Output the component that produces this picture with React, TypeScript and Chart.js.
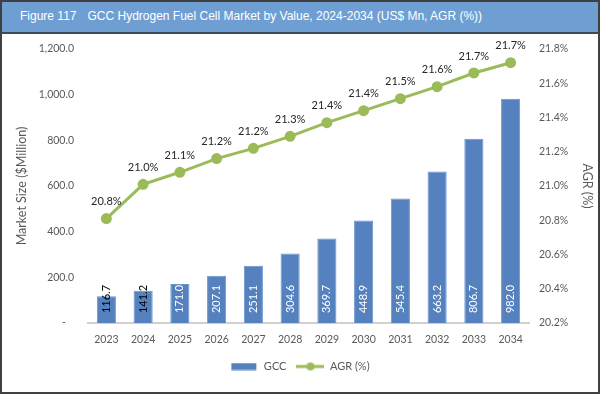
import React, { useEffect, useRef } from "react";
import { Chart, registerables } from "chart.js";

Chart.register(...registerables);

const years = ["2023", "2024", "2025", "2026", "2027", "2028", "2029", "2030", "2031", "2032", "2033", "2034"];
const gccValues = [116.7, 141.2, 171.0, 207.1, 251.1, 304.6, 369.7, 448.9, 545.4, 663.2, 806.7, 982.0];
const agrValues = [20.81, 21.01, 21.08, 21.16, 21.22, 21.29, 21.37, 21.44, 21.51, 21.58, 21.66, 21.72];
const titleText = "GCC Hydrogen Fuel Cell Market by Value, 2024-2034 (US$ Mn, AGR (%))";
const figureLabel = "Figure 117";

const BAR_COLOR = "#5581be";
const LINE_COLOR = "#9bbb59";
const TEXT_COLOR = "#595959";
const FONT = "Lato";

function makeBarIcon() {
  const c = document.createElement("canvas");
  c.width = 28;
  c.height = 8;
  const g = c.getContext("2d")!;
  g.fillStyle = BAR_COLOR;
  g.fillRect(1, 0.5, 25, 7);
  return c;
}

function makeLineIcon() {
  const c = document.createElement("canvas");
  c.width = 28;
  c.height = 10;
  const g = c.getContext("2d")!;
  g.strokeStyle = LINE_COLOR;
  g.lineWidth = 3;
  g.beginPath();
  g.moveTo(0, 5);
  g.lineTo(28, 5);
  g.stroke();
  g.fillStyle = LINE_COLOR;
  g.beginPath();
  g.arc(14, 5, 4, 0, Math.PI * 2);
  g.fill();
  return c;
}

const labelPlugin = {
  id: "valueLabels",
  afterDatasetsDraw(chart: any) {
    const ctx = chart.ctx;
    const barMeta = chart.getDatasetMeta(0);
    const lineMeta = chart.getDatasetMeta(1);
    ctx.save();
    ctx.font = `11px ${FONT}`;
    barMeta.data.forEach((el: any, i: number) => {
      const txt = gccValues[i].toFixed(1);
      const w = ctx.measureText(txt).width;
      const cy = el.base - 24;
      const inside = el.y < cy - w / 2;
      ctx.save();
      ctx.translate(el.x, cy);
      ctx.rotate(-Math.PI / 2);
      ctx.textAlign = "center";
      ctx.textBaseline = "middle";
      ctx.fillStyle = inside ? "#ffffff" : "#000000";
      ctx.fillText(txt, 0, 0);
      ctx.restore();
    });
    ctx.fillStyle = "#262626";
    ctx.textAlign = "center";
    ctx.textBaseline = "middle";
    lineMeta.data.forEach((el: any, i: number) => {
      ctx.fillText(agrValues[i].toFixed(1) + "%", el.x, el.y - 17);
    });
    ctx.restore();
  },
};

export default function App() {
  const canvasRef = useRef<HTMLCanvasElement | null>(null);

  useEffect(() => {
    document.body.style.margin = "0";
    const barIcon = makeBarIcon();
    const lineIcon = makeLineIcon();
    const chart = new Chart(canvasRef.current!, {
      type: "bar",
      data: {
        labels: years,
        datasets: [
          {
            type: "bar",
            label: "GCC",
            data: gccValues,
            backgroundColor: BAR_COLOR,
            borderColor: "#6a93cc",
            borderWidth: 1,
            barPercentage: 0.52,
            categoryPercentage: 1,
            yAxisID: "y",
            order: 2,
          },
          {
            type: "line",
            label: "AGR (%)",
            data: agrValues,
            borderColor: LINE_COLOR,
            backgroundColor: LINE_COLOR,
            borderWidth: 3,
            pointRadius: 4,
            pointBackgroundColor: LINE_COLOR,
            pointBorderColor: LINE_COLOR,
            tension: 0,
            yAxisID: "y1",
            order: 1,
          },
        ] as any,
      },
      options: {
        animation: false,
        responsive: false,
        maintainAspectRatio: false,
        layout: { padding: { top: 49, bottom: 12, left: 0, right: 0 } },
        plugins: {
          tooltip: { enabled: false },
          title: { display: false },
          legend: {
            position: "bottom",
            labels: {
              usePointStyle: true,
              pointStyleWidth: 28,
              boxHeight: 10,
              padding: 10,
              color: TEXT_COLOR,
              font: { family: FONT, size: 11 },
              generateLabels: () => [
                {
                  text: "GCC",
                  pointStyle: barIcon,
                  fillStyle: BAR_COLOR,
                  strokeStyle: BAR_COLOR,
                  lineWidth: 0,
                  hidden: false,
                  datasetIndex: 0,
                  fontColor: TEXT_COLOR,
                } as any,
                {
                  text: "AGR (%)",
                  pointStyle: lineIcon,
                  fillStyle: LINE_COLOR,
                  strokeStyle: LINE_COLOR,
                  lineWidth: 0,
                  hidden: false,
                  datasetIndex: 1,
                  fontColor: TEXT_COLOR,
                } as any,
              ],
            },
          },
        },
        scales: {
          x: {
            offset: true,
            grid: { display: false },
            border: { display: true, color: "#d0d0d0", width: 2 },
            ticks: {
              color: TEXT_COLOR,
              font: { family: FONT, size: 10.5 },
              padding: 2,
              maxRotation: 0,
              autoSkip: false,
            },
            afterFit: (s: any) => {
              s.height = 28;
            },
          },
          y: {
            position: "left",
            min: 0,
            max: 1200,
            grid: { display: false },
            border: { display: false },
            ticks: {
              stepSize: 200,
              color: TEXT_COLOR,
              font: { family: FONT, size: 10.5 },
              padding: 6,
              callback: (v: any) =>
                v === 0
                  ? "-   "
                  : Number(v).toLocaleString("en-US", { minimumFractionDigits: 1, maximumFractionDigits: 1 }),
            },
            title: {
              display: true,
              text: "Market Size ($Million)",
              color: TEXT_COLOR,
              font: { family: FONT, size: 12.5 },
              padding: { top: 14, bottom: 0 },
            },
            afterFit: (s: any) => {
              s.width = 88;
            },
          },
          y1: {
            position: "right",
            min: 20.2,
            max: 21.8,
            grid: { display: false },
            border: { display: false },
            ticks: {
              stepSize: 0.2,
              color: TEXT_COLOR,
              font: { family: FONT, size: 10.5 },
              padding: 2,
              callback: (v: any) => Number(v).toFixed(1) + "%",
            },
            title: {
              display: true,
              text: "AGR (%)",
              color: TEXT_COLOR,
              font: { family: FONT, size: 12.5 },
              padding: { top: 5, bottom: 0 },
            },
            afterFit: (s: any) => {
              s.width = 71;
            },
          },
        },
      },
      plugins: [labelPlugin],
    } as any);
    return () => chart.destroy();
  }, []);

  return (
    <div
      style={{
        position: "absolute",
        left: 0,
        top: 0,
        width: 600,
        height: 394,
        background: "#ffffff",
        overflow: "hidden",
      }}
    >
      <canvas ref={canvasRef} width={600} height={394} style={{ position: "absolute", left: 0, top: 0 }} />
      <div
        style={{
          position: "absolute",
          left: 0,
          top: 0,
          width: 600,
          height: 32,
          background: "#6f9fd2",
          borderBottom: "2px solid #3f4a57",
          color: "#ffffff",
          fontFamily: "'Liberation Sans', Arial, sans-serif",
          fontSize: 12,
          lineHeight: "32px",
          whiteSpace: "pre",
          boxSizing: "content-box",
        }}
      >
        <span style={{ marginLeft: 20 }}>{figureLabel}</span>
        <span style={{ marginLeft: 11 }}>{titleText}</span>
      </div>
      <div
        style={{
          position: "absolute",
          left: 0,
          top: 0,
          width: 600,
          height: 394,
          boxSizing: "border-box",
          border: "2px solid #404040",
          pointerEvents: "none",
        }}
      />
    </div>
  );
}
